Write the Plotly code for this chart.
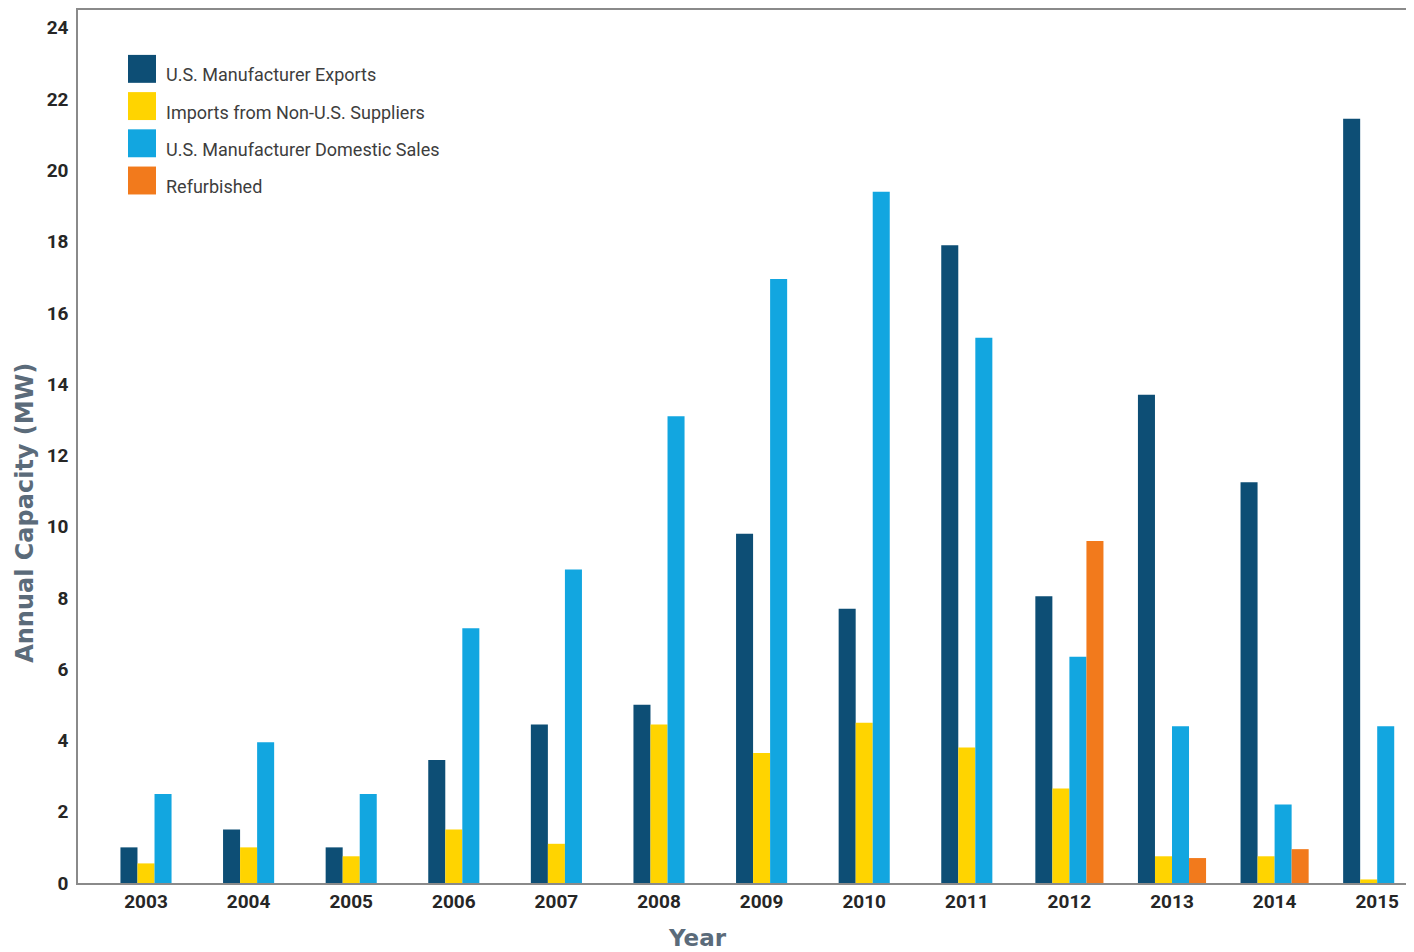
import plotly.graph_objects as go

years = ["2003", "2004", "2005", "2006", "2007", "2008", "2009",
         "2010", "2011", "2012", "2013", "2014", "2015"]
exports = [1.0, 1.5, 1.0, 3.45, 4.45, 5.0, 9.8, 7.7, 17.9, 8.05, 13.7, 11.25, 21.45]
imports = [0.55, 1.0, 0.75, 1.5, 1.1, 4.45, 3.65, 4.5, 3.8, 2.65, 0.75, 0.75, 0.1]
domestic = [2.5, 3.95, 2.5, 7.15, 8.8, 13.1, 16.95, 19.4, 15.3, 6.35, 4.4, 2.2, 4.4]
refurbished = [None, None, None, None, None, None, None, None, None, 9.6, 0.7, 0.95, 0.0]

series_names = ["U.S. Manufacturer Exports", "Imports from Non-U.S. Suppliers",
                "U.S. Manufacturer Domestic Sales", "Refurbished"]
series_values = [exports, imports, domestic, refurbished]
colors = ["#0d4e75", "#ffd400", "#12a6e0", "#f27a1c"]

# page / plot geometry (screen px); page has an 8px body offset
OFF = 8
W, H = 1414 - OFF, 952 - OFF
PL, PR, PT, PB = 78, 1414, 8, 883          # plot area on screen
ML, MR, MT, MB = PL - OFF, 0, PT - OFF, H - (PB - OFF)
PW, PH = PR - PL, PB - PT


def px(X):
    return (X - PL) / PW


def py(Y):
    return (PB - Y) / PH


# clustered bar layout: groups are centred on the bars present in each year
BW = 0.166
n_slots = [4 if r is not None else 3 for r in refurbished]

fig = go.Figure()
for k, (name, vals, col) in enumerate(zip(series_names, series_values, colors)):
    offs = [(-n / 2 + k) * BW for n in n_slots]
    fig.add_trace(go.Bar(x=years, y=vals, name=name, offset=offs, width=BW,
                         marker=dict(color=col, line=dict(width=0)), showlegend=False))

tick_font = "Roboto, sans-serif"
legend_font = "Roboto, sans-serif"
title_font = "DejaVu Sans, sans-serif"

shapes = []
annotations = []
sw_x0, sw_size, sw_y0, sw_step = 128, 28, 53, 37.3
for i, (name, col) in enumerate(zip(series_names, colors)):
    top = sw_y0 + i * sw_step
    shapes.append(dict(type="rect", xref="paper", yref="paper",
                       x0=px(sw_x0), x1=px(sw_x0 + sw_size),
                       y0=py(top + sw_size), y1=py(top),
                       fillcolor=col, line=dict(width=0)))
    annotations.append(dict(xref="paper", yref="paper", x=px(164),
                            y=py(top + sw_size / 2 + 6),
                            text=name, showarrow=False, xanchor="left", yanchor="middle",
                            font=dict(family=legend_font, size=18, color="#3d3d3d")))

annotations.append(dict(xref="paper", yref="paper", x=px(25), y=py(512),
                        text="<b>Annual Capacity (MW)</b>", textangle=-90, showarrow=False,
                        xanchor="center", yanchor="middle",
                        font=dict(family=title_font, size=24, color="#5b6b7a")))
annotations.append(dict(xref="paper", yref="paper", x=px(697), y=py(938),
                        text="<b>Year</b>", showarrow=False,
                        xanchor="center", yanchor="middle",
                        font=dict(family=title_font, size=23, color="#5b6b7a")))

cat_w = 102.6
c0 = 146
fig.update_layout(
    width=W, height=H,
    margin=dict(l=ML, r=MR, t=MT, b=MB, pad=0),
    paper_bgcolor="white", plot_bgcolor="white",
    barmode="overlay",
    shapes=shapes, annotations=annotations,
    xaxis=dict(
        range=[-(c0 - PL) / cat_w, (PR - c0) / cat_w],
        showline=True, linecolor="#8a8a8a", linewidth=1.5, mirror=True,
        ticks="", showgrid=False,
        tickfont=dict(family=tick_font, size=19, color="#262626", weight="bold"),
    ),
    yaxis=dict(
        range=[0, 24.5],
        tickvals=list(range(0, 25, 2)),
        showline=True, linecolor="#8a8a8a", linewidth=1.5,
        ticks="", showgrid=False, zeroline=False,
        tickfont=dict(family=tick_font, size=19, color="#262626", weight="bold"),
        ticklabelstandoff=4,
    ),
)

fig.write_html("out.html")
